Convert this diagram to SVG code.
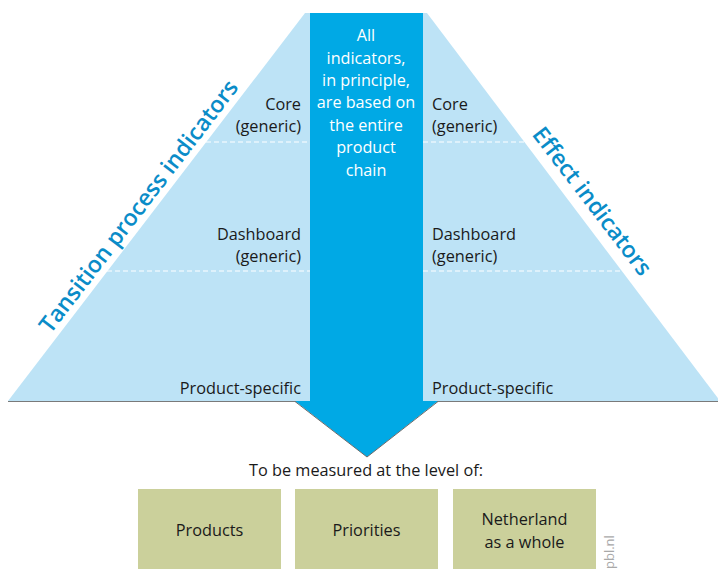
<svg xmlns="http://www.w3.org/2000/svg" width="718" height="569" viewBox="0 0 718 569">
<style>
text{font-family:"Open Sans","Noto Sans","Liberation Sans",sans-serif;}
.lbl{font-size:16.3px;fill:#1a1a1a;}
.r{text-anchor:end;}
.c{text-anchor:middle;}
.w{font-size:16.2px;fill:#ffffff;text-anchor:middle;}
.side{font-size:23px;font-weight:600;fill:#0a8cc8;text-anchor:middle;}
.dash{stroke:#ffffff;stroke-width:1.2;stroke-dasharray:5 3;fill:none;}
.box{fill:#cbd09b;}
</style>
<rect width="718" height="569" fill="#ffffff"/>
<g id="pyramid">
<polygon points="8,401 305,13 427,13 720,401" fill="#bde3f6"/>
<line x1="206" y1="142" x2="310" y2="142" class="dash"/>
<line x1="423" y1="142" x2="524" y2="142" class="dash"/>
<line x1="107" y1="271" x2="310" y2="271" class="dash"/>
<line x1="423" y1="271" x2="623" y2="271" class="dash"/>
<line x1="8" y1="401.5" x2="718" y2="401.5" stroke="#7a7a7a" stroke-width="1"/>
</g>
<g id="arrow">
<polygon points="310,13 423,13 423,401 438,401 367,457 295,401 310,401" fill="#00a9e5"/>
<polyline points="295,401.5 367,457 438,401.5" fill="none" stroke="#6b6b6b" stroke-width="1"/>
<text class="w" x="366" y="41">All</text>
<text class="w" x="366" y="64">indicators,</text>
<text class="w" x="366" y="86">in principle,</text>
<text class="w" x="366" y="108">are based on</text>
<text class="w" x="366" y="131">the entire</text>
<text class="w" x="366" y="153">product</text>
<text class="w" x="366" y="176">chain</text>
</g>
<g id="left-labels">
<text class="lbl r" x="301" y="110">Core</text>
<text class="lbl r" x="301" y="132">(generic)</text>
<text class="lbl r" x="301" y="240">Dashboard</text>
<text class="lbl r" x="301" y="262">(generic)</text>
<text class="lbl r" x="301" y="394">Product-specific</text>
</g>
<g id="right-labels">
<text class="lbl" x="432" y="110">Core</text>
<text class="lbl" x="432" y="132">(generic)</text>
<text class="lbl" x="432" y="240">Dashboard</text>
<text class="lbl" x="432" y="262">(generic)</text>
<text class="lbl" x="432" y="394">Product-specific</text>
</g>
<g id="side-left">
<text class="side" transform="translate(145,211) rotate(-52.6)">Tansition process indicators</text>
</g>
<g id="side-right">
<text class="side" transform="translate(586,206) rotate(52.6)">Effect indicators</text>
</g>
<text class="lbl c" x="366" y="476">To be measured at the level of:</text>
<g id="box-products">
<rect class="box" x="138" y="489" width="143" height="80"/>
<text class="lbl c" x="209.5" y="536">Products</text>
</g>
<g id="box-priorities">
<rect class="box" x="295" y="489" width="143" height="80"/>
<text class="lbl c" x="366.5" y="536">Priorities</text>
</g>
<g id="box-netherland">
<rect class="box" x="453" y="489" width="143" height="80"/>
<text class="lbl c" x="524.5" y="525">Netherland</text>
<text class="lbl c" x="524.5" y="548">as a whole</text>
</g>
<text transform="translate(614,569) rotate(-90)" style="font-size:13px;fill:#a8a8a8;">pbl.nl</text>
</svg>
